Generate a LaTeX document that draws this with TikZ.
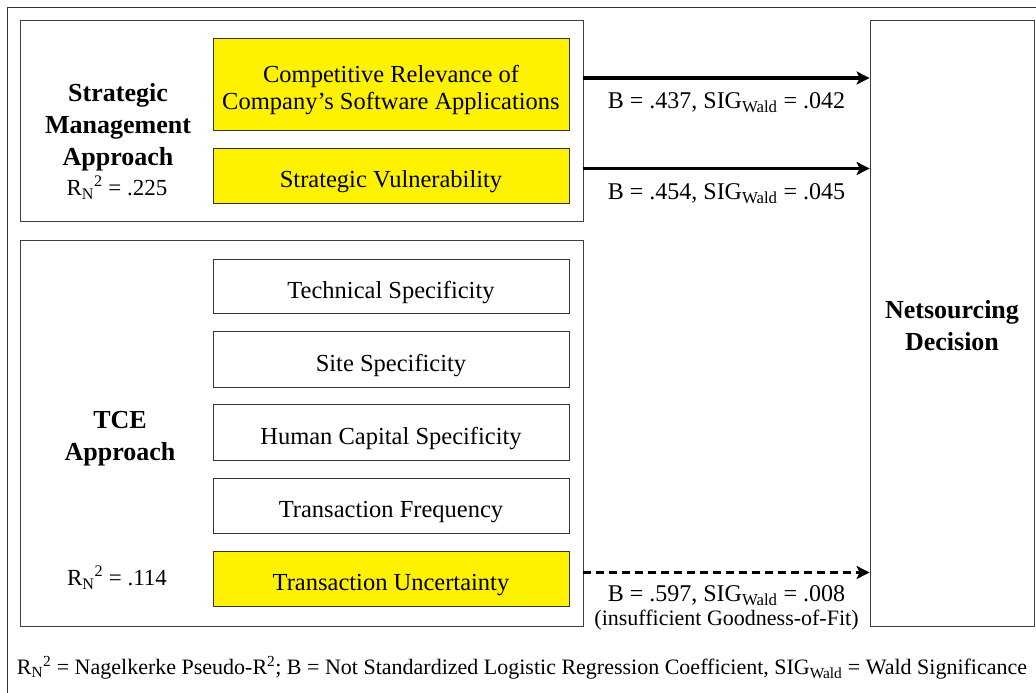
\documentclass[tikz,border=0pt]{standalone}
\usepackage{fontspec}
\setmainfont{Liberation Serif}
\usepackage{tikz}
\usetikzlibrary{arrows.meta}
\usetikzlibrary{positioning}

\tikzset{
grp/.style={draw=black!75, line width=0.8pt, minimum width=563pt, inner sep=0pt},
var/.style={draw=black!80, line width=0.8pt, minimum width=356pt, inner sep=0pt, font=\fontsize{24.5}{28}\selectfont, align=center, text height=29.5pt, text depth=5.3pt},
hit/.style={var, fill=yellow},
arr/.style={line width=3.4pt, -{Stealth[length=13pt,width=13pt,inset=3pt]}},
lab/.style={font=\fontsize{24}{24}\selectfont, align=center},
head/.style={font=\bfseries\fontsize{26}{32}\selectfont, align=center}}

\newcommand{\rnsq}{R\textsubscript{N}\textsuperscript{2}}
\newcommand{\sigw}{SIG\textsubscript{Wald}}

\begin{document}
\begin{tikzpicture}[x=1pt, y=-1pt]
    \useasboundingbox (0,0) rectangle (1036,693);
    \draw[black!80, line width=0.8pt] (7,700) -- (7,7) -- (1045,7);

                \node[grp, minimum height=201pt] (sma) at (301.5,120.5) {};
                \node[grp, minimum height=386pt] (tce) at (301.5,433) {};
                \node[grp, minimum width=164pt, minimum height=606pt] (net) at (952,323) {};

                \node[hit, minimum height=92pt, text height=57.3pt, text depth=5.3pt] (comp) at (391,84) {Competitive Relevance of\\Company's Software Applications};
                \node[hit, minimum height=55pt] (vuln) at (391,175.5) {Strategic Vulnerability};
                \node[var, minimum height=54pt] (tech) at (391,286) {Technical Specificity};
                \node[var, minimum height=56pt] (site) at (391,359) {Site Specificity};
                \node[var, minimum height=56pt] (hcap) at (391,432) {Human Capital Specificity};
                \node[var, minimum height=55pt] (freq) at (391,505.5) {Transaction Frequency};
                \node[hit, minimum height=55pt] (unc) at (391,578.5) {Transaction Uncertainty};

                \node[head] (smaname) at (118,127.5) {Strategic\\Management\\Approach};
                \node[lab, font=\fontsize{23}{24}\selectfont] (smarn) at (117,188) {\rnsq{} = .225};
                \node[head] (tcename) at (120,439) {TCE\\Approach};
                \node[lab, font=\fontsize{23}{24}\selectfont] (tcern) at (117,578) {\rnsq{} = .114};
                \node[head] (netname) at (952,326) {Netsourcing\\Decision};

                \coordinate (a1) at ([yshift=6pt]sma.east |- comp.east);
                \coordinate (a2) at ([yshift=7pt]sma.east |- vuln.east);
                \coordinate (a3) at ([yshift=6pt]tce.east |- unc.east);

                \draw[arr] (a1) -- (a1 -| net.west) node[midway, below=10pt, lab] {B = .437, \sigw{} = .042};
                \draw[arr] (a2) -- (a2 -| net.west) node[midway, below=10pt, lab] {B = .454, \sigw{} = .045};
                \draw[arr, dash pattern=on 8pt off 5pt] (a3) -- (a3 -| net.west) node[midway, below=8pt, lab, font=\fontsize{24}{25}\selectfont] {B = .597, \sigw{} = .008\\[-1pt]{\fontsize{22}{24}\selectfont (insufficient Goodness-of-Fit)}};

                \node[lab, font=\fontsize{22}{24}\selectfont] (foot) at (522,668) {\rnsq{} = Nagelkerke Pseudo-R\textsuperscript{2}; B = Not Standardized Logistic Regression Coefficient, \sigw{} = Wald Significance};

            \end{tikzpicture}
\end{document}
